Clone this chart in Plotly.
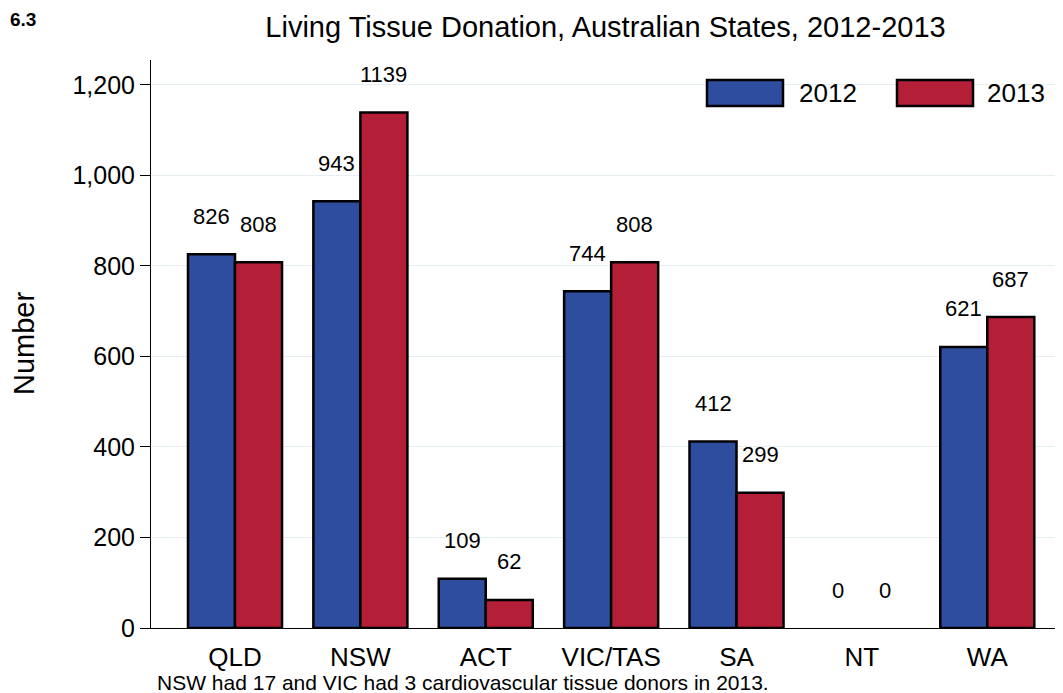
import plotly.graph_objects as go

categories = ["QLD", "NSW", "ACT", "VIC/TAS", "SA", "NT", "WA"]
years = ["2012", "2013"]
values_2012 = [826, 943, 109, 744, 412, 0, 621]
values_2013 = [808, 1139, 62, 808, 299, 0, 687]
colors = {"2012": "#2e4d9f", "2013": "#b41f37"}
y_ticks = [0, 200, 400, 600, 800, 1000, 1200]

FONT = "Liberation Sans, Arial"
# page has 8px body margin; figure geometry
W, H = 1055, 685
L, R, T, B = 143, 3, 52, 65
PW, PH = W - L - R, H - T - B


def px(X):  # page x -> paper x
    return (X - 8 - L) / PW


def py(Y):  # page y -> paper y
    return (H - B - (Y - 8)) / PH


fig = go.Figure()
for yr, vals in zip(years, [values_2012, values_2013]):
    fig.add_trace(go.Bar(
        x=categories, y=vals, name=yr,
        marker=dict(color=colors[yr],
                    line=dict(color="black", width=[2.5 if v > 0 else 0 for v in vals])),
        showlegend=False,
    ))

# value labels above bars
offsets = {"2012": -0.1875, "2013": 0.1875}
for yr, vals in zip(years, [values_2012, values_2013]):
    for i, v in enumerate(vals):
        fig.add_annotation(
            x=i + offsets[yr], y=v, xref="x", yref="y",
            text=str(v), showarrow=False, yshift=38,
            font=dict(family=FONT, size=22, color="black"),
        )

# custom legend
leg = [("2012", 707, 783, 800), ("2013", 897, 973, 988)]
for yr, x0, x1, xt in leg:
    fig.add_shape(type="rect", xref="paper", yref="paper",
                  x0=px(x0), x1=px(x1), y0=py(106), y1=py(80),
                  fillcolor=colors[yr], line=dict(color="black", width=2.5))
    fig.add_annotation(xref="paper", yref="paper", x=px(xt - 3), y=py(93),
                       text=yr, showarrow=False, xanchor="left", yanchor="middle",
                       font=dict(family=FONT, size=26, color="black"))

fig.add_annotation(xref="paper", yref="paper", x=px(8), y=py(19),
                   text="<b>6.3</b>", showarrow=False, xanchor="left", yanchor="middle",
                   font=dict(family=FONT, size=19, color="black"))
fig.add_annotation(xref="paper", yref="paper", x=px(155), y=py(682),
                   text="NSW had 17 and VIC had 3 cardiovascular tissue donors in 2013.",
                   showarrow=False, xanchor="left", yanchor="middle",
                   font=dict(family=FONT, size=21, color="black"))
fig.add_annotation(xref="paper", yref="paper", x=px(24), y=py(344),
                   text="Number", textangle=-90, showarrow=False,
                   xanchor="center", yanchor="middle",
                   font=dict(family=FONT, size=29, color="black"))

fig.update_layout(
    width=W, height=H,
    margin=dict(l=L, r=R, t=T, b=B),
    paper_bgcolor="white", plot_bgcolor="white",
    barmode="group", bargap=0.25, bargroupgap=0,
    title=dict(text="Living Tissue Donation, Australian States, 2012-2013",
               x=0.5, xref="paper", y=1 - 19 / H, yanchor="middle",
               font=dict(family=FONT, size=29, color="black")),
    font=dict(family=FONT, color="black"),
    xaxis=dict(range=[-0.67, 6.58], showline=True, linecolor="black", linewidth=1,
               ticks="", showgrid=False, tickfont=dict(size=26), ticklabelstandoff=6),
    yaxis=dict(range=[0, 1255], tickvals=y_ticks, tickformat=",d",
               showline=True, linecolor="black", linewidth=1,
               ticks="outside", ticklen=10, tickcolor="black",
               showgrid=True, gridcolor="#e6eff1", gridwidth=1, zeroline=False,
               tickfont=dict(size=25), ticklabelstandoff=0),
)

fig.write_html("out.html")
